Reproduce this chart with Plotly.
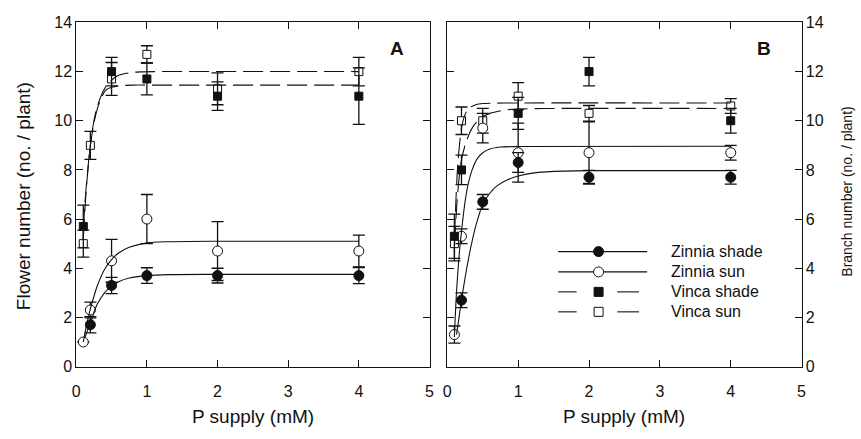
import plotly.graph_objects as go

# ---------------- data ----------------
p_supply = [0.1, 0.2, 0.5, 1, 2, 4]

# Panel A: flower number
a_zinnia_shade = [None, 1.7, 3.3, 3.7, 3.7, 3.7]
a_zinnia_shade_err = [None, 0.33, 0.33, 0.32, 0.3, 0.33]
a_zinnia_sun = [1.0, 2.3, 4.3, 6.0, 4.7, 4.7]
a_zinnia_sun_err = [0, 0.32, 0.87, 1.0, 1.2, 0.65]
a_vinca_shade = [5.7, None, 12.0, 11.7, 11.0, 11.0]
a_vinca_shade_err = [0.87, None, 0.58, 0.65, 0.58, 1.15]
a_vinca_sun = [5.0, 9.0, 11.7, 12.7, 11.3, 12.0]
a_vinca_sun_err = [0.55, 0.57, 0.67, 0.35, 0.65, 0.58]

# Panel B: branch number
b_zinnia_shade = [None, 2.7, 6.7, 8.3, 7.7, 7.7]
b_zinnia_shade_err = [None, 0.3, 0.3, 0.4, 0.28, 0.28]
b_zinnia_sun = [1.3, 5.3, 9.7, 8.7, 8.7, 8.7]
b_zinnia_sun_err = [0.35, 0.3, 0.6, 1.2, 1.25, 0.3]
b_vinca_shade = [5.3, 8.0, None, 10.3, 12.0, 10.0]
b_vinca_shade_err = [0.9, 0.6, None, 0.65, 0.58, 0.5]
b_vinca_sun = [5.0, 10.0, 10.0, 11.0, 10.3, 10.6]
b_vinca_sun_err = [0.7, 0.56, 0.5, 0.55, 0.32, 0.3]

# fitted curves
a_fit_zinnia_shade_x = [0.12, 0.15, 0.2, 0.25, 0.3, 0.4, 0.5, 0.6, 0.75, 1.0, 1.3, 2, 4]
a_fit_zinnia_shade_y = [1.15, 1.4, 1.75, 2.2, 2.55, 3.0, 3.27, 3.45, 3.6, 3.7, 3.74, 3.75, 3.75]
a_fit_zinnia_sun_x = [0.1, 0.15, 0.2, 0.25, 0.3, 0.4, 0.5, 0.6, 0.75, 1.0, 1.3, 2, 4]
a_fit_zinnia_sun_y = [1.0, 1.75, 2.35, 2.85, 3.3, 3.95, 4.35, 4.62, 4.85, 5.03, 5.08, 5.1, 5.1]
a_fit_vinca_shade_x = [0.1, 0.125, 0.15, 0.2, 0.25, 0.3, 0.35, 0.42, 0.5, 0.6, 0.8, 1.0, 4]
a_fit_vinca_shade_y = [5.6, 6.7, 7.6, 9.0, 9.9, 10.5, 10.9, 11.25, 11.36, 11.42, 11.45, 11.45, 11.45]
a_fit_vinca_sun_x = [0.1, 0.125, 0.15, 0.2, 0.25, 0.3, 0.4, 0.5, 0.6, 0.75, 0.9, 1.2, 4]
a_fit_vinca_sun_y = [5.2, 6.5, 7.5, 9.0, 10.0, 10.6, 11.3, 11.65, 11.85, 11.95, 11.99, 12.0, 12.0]

b_fit_zinnia_shade_x = [0.13, 0.2, 0.25, 0.3, 0.35, 0.4, 0.5, 0.6, 0.7, 0.85, 1.0, 1.2, 1.5, 2, 4]
b_fit_zinnia_shade_y = [1.3, 2.7, 3.6, 4.4, 5.1, 5.7, 6.6, 7.05, 7.35, 7.6, 7.75, 7.87, 7.94, 7.97, 7.97]
b_fit_zinnia_sun_x = [0.1, 0.125, 0.15, 0.175, 0.2, 0.25, 0.3, 0.35, 0.42, 0.5, 0.6, 0.75, 1.0, 4]
b_fit_zinnia_sun_y = [1.2, 2.8, 3.9, 4.8, 5.5, 6.7, 7.5, 8.0, 8.45, 8.7, 8.85, 8.93, 8.95, 8.96]
b_fit_vinca_shade_x = [0.1, 0.13, 0.16, 0.2, 0.25, 0.3, 0.35, 0.4, 0.5, 0.6, 0.8, 1.0, 1.5, 4]
b_fit_vinca_shade_y = [4.9, 6.4, 7.5, 8.4, 9.0, 9.4, 9.7, 9.9, 10.15, 10.3, 10.43, 10.48, 10.5, 10.5]
b_fit_vinca_sun_x = [0.1, 0.125, 0.15, 0.2, 0.25, 0.3, 0.4, 0.5, 0.8, 4]
b_fit_vinca_sun_y = [5.2, 7.0, 8.3, 9.7, 10.25, 10.5, 10.65, 10.7, 10.72, 10.72]

x_ticks = [0, 1, 2, 3, 4, 5]
y_ticks = [0, 2, 4, 6, 8, 10, 12, 14]
series_names = ["Zinnia shade", "Zinnia sun", "Vinca shade", "Vinca sun"]

# ---------------- figure ----------------
FONT = "Liberation Sans, Arial, sans-serif"
BLACK = "#111111"
fig = go.Figure()

STYLE = {
    "Zinnia shade": dict(symbol="circle", size=10, color=BLACK, line=dict(color=BLACK, width=1)),
    "Zinnia sun": dict(symbol="circle", size=10, color="white", line=dict(color=BLACK, width=1)),
    "Vinca shade": dict(symbol="square", size=8, color=BLACK, line=dict(color=BLACK, width=1)),
    "Vinca sun": dict(symbol="square", size=8, color="white", line=dict(color=BLACK, width=1)),
}


def add_points(name, y, err, xa, ya):
    fig.add_trace(go.Scatter(
        x=p_supply, y=y, mode="markers", name=name, showlegend=False,
        xaxis=xa, yaxis=ya, marker=STYLE[name],
        error_y=dict(type="data", array=err, visible=True, color=BLACK,
                     thickness=1.3, width=6),
    ))


def add_fit(x, y, dashed, xa, ya):
    fig.add_trace(go.Scatter(
        x=x, y=y, mode="lines", showlegend=False, xaxis=xa, yaxis=ya,
        line=dict(color=BLACK, width=1.1, shape="spline", smoothing=0.8,
                  dash="20px,7px" if dashed else "solid"),
        hoverinfo="skip",
    ))


# open markers first, filled on top
add_points("Vinca sun", a_vinca_sun, a_vinca_sun_err, "x", "y")
add_points("Zinnia sun", a_zinnia_sun, a_zinnia_sun_err, "x", "y")
add_points("Vinca shade", a_vinca_shade, a_vinca_shade_err, "x", "y")
add_points("Zinnia shade", a_zinnia_shade, a_zinnia_shade_err, "x", "y")

add_points("Vinca sun", b_vinca_sun, b_vinca_sun_err, "x2", "y2")
add_points("Zinnia sun", b_zinnia_sun, b_zinnia_sun_err, "x2", "y2")
add_points("Vinca shade", b_vinca_shade, b_vinca_shade_err, "x2", "y2")
add_points("Zinnia shade", b_zinnia_shade, b_zinnia_shade_err, "x2", "y2")

add_fit(a_fit_zinnia_shade_x, a_fit_zinnia_shade_y, False, "x", "y")
add_fit(a_fit_zinnia_sun_x, a_fit_zinnia_sun_y, False, "x", "y")
add_fit(a_fit_vinca_shade_x, a_fit_vinca_shade_y, True, "x", "y")
add_fit(a_fit_vinca_sun_x, a_fit_vinca_sun_y, True, "x", "y")
add_fit(b_fit_zinnia_shade_x, b_fit_zinnia_shade_y, False, "x2", "y2")
add_fit(b_fit_zinnia_sun_x, b_fit_zinnia_sun_y, False, "x2", "y2")
add_fit(b_fit_vinca_shade_x, b_fit_vinca_shade_y, True, "x2", "y2")
add_fit(b_fit_vinca_sun_x, b_fit_vinca_sun_y, True, "x2", "y2")

W, H = 861, 439
ax_common = dict(
    showgrid=False, zeroline=False, showline=True, linecolor=BLACK, linewidth=1,
    ticks="inside", ticklen=7, tickwidth=1, tickcolor=BLACK, mirror="ticks",
    tickfont=dict(family=FONT, size=16, color=BLACK),
)
xdomA = [73 / W, 430 / W]
xdomB = [448 / W, 806 / W]
ydom = [(H - 373) / H, (H - 15) / H]

fig.update_layout(
    width=W, height=H, margin=dict(l=0, r=0, t=0, b=0),
    paper_bgcolor="white", plot_bgcolor="white", showlegend=False,
    font=dict(family=FONT, color=BLACK),
    xaxis=dict(domain=xdomA, range=[0, 5], tickvals=x_ticks, anchor="y",
               ticklabelstandoff=10, **ax_common),
    yaxis=dict(domain=ydom, range=[0, 14], tickvals=y_ticks, anchor="x", side="left", **ax_common),
    xaxis2=dict(domain=xdomB, range=[0, 5], tickvals=x_ticks, anchor="y2",
                ticklabelstandoff=10, **ax_common),
    yaxis2=dict(domain=ydom, range=[0, 14], tickvals=y_ticks, anchor="x2", side="right", **ax_common),
)

# axis titles & panel letters
ann = [
    dict(text="P supply (mM)", x=(73 + 430) / 2 / W, y=(H - 425) / H, font=dict(size=19)),
    dict(text="P supply (mM)", x=(448 + 806) / 2 / W, y=(H - 425) / H, font=dict(size=19)),
    dict(text="Flower number (no. / plant)", x=20 / W, y=(H - 196) / H, textangle=-90, font=dict(size=19)),
    dict(text="Branch number (no. / plant)", x=851 / W, y=(H - 191) / H, textangle=-90, font=dict(size=14)),
    dict(text="<b>A</b>", x=397 / W, y=(H - 42) / H, font=dict(size=19)),
    dict(text="<b>B</b>", x=768 / W, y=(H - 42) / H, font=dict(size=19)),
]
for a in ann:
    fig.add_annotation(xref="paper", yref="paper", showarrow=False,
                       xanchor="center", yanchor="middle", **a)

# custom legend inside panel B
lx0, lx1, lmx, ltx = 0.313, 0.564, 0.427, 0.626
rows = [0.334, 0.275, 0.217, 0.159]
for name, ry in zip(series_names, rows):
    if name.startswith("Zinnia"):
        fig.add_shape(type="line", xref="x2 domain", yref="y2 domain",
                      x0=lx0, x1=lx1, y0=ry, y1=ry, line=dict(color=BLACK, width=1.1))
    else:
        for s0, s1 in [(lx0, 0.365), (0.48, 0.541)]:
            fig.add_shape(type="line", xref="x2 domain", yref="y2 domain",
                          x0=s0, x1=s1, y0=ry, y1=ry, line=dict(color=BLACK, width=1.1))
        fig.add_shape(type="line", xref="x2 domain", yref="y2 domain",
                      x0=lmx, x1=lmx, y0=ry - 0.012, y1=ry + 0.012, line=dict(color=BLACK, width=1))
    st = STYLE[name]
    half = 5 if st["symbol"] == "circle" else 4.5
    fig.add_shape(type="circle" if st["symbol"] == "circle" else "rect",
                  xref="x2 domain", yref="y2 domain",
                  xsizemode="pixel", ysizemode="pixel", xanchor=lmx, yanchor=ry,
                  x0=-half, x1=half, y0=-half, y1=half,
                  fillcolor=st["color"], line=dict(color=BLACK, width=1))
    fig.add_annotation(xref="x2 domain", yref="y2 domain", x=ltx, y=ry, text=name,
                       showarrow=False, xanchor="left", yanchor="middle",
                       font=dict(size=16, family=FONT, color=BLACK))

fig.write_html("out.html")
